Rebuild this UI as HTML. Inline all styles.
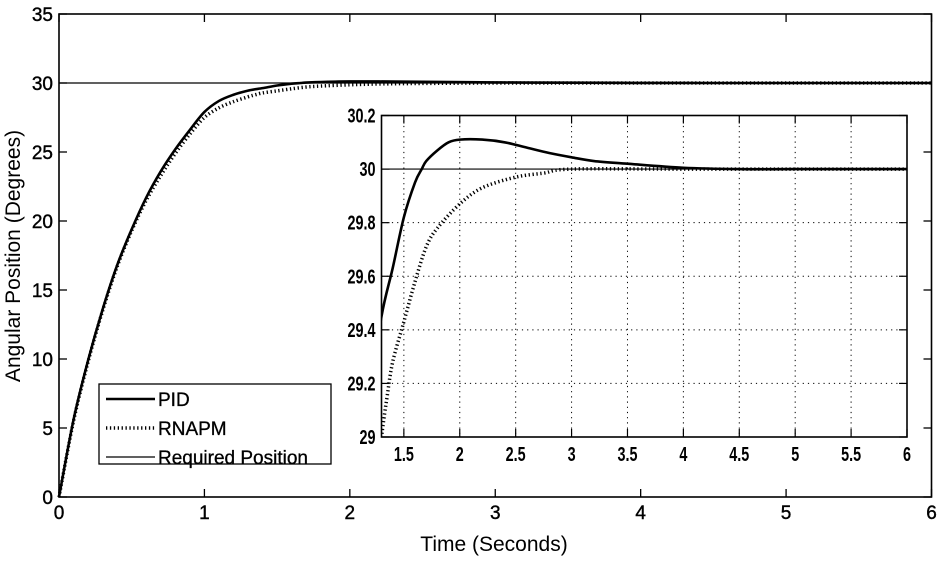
<!DOCTYPE html>
<html><head><meta charset="utf-8"><style>
html,body{margin:0;padding:0;background:#fff;}
svg{display:block;font-family:"Liberation Sans",Arial,sans-serif;}
</style></head><body>
<svg id="chart" width="938" height="561" viewBox="0 0 938 561" xmlns="http://www.w3.org/2000/svg"></svg>
<script>
// ---- data ----
const pidT   = [0,0.1,0.2,0.3,0.4,0.5,0.6,0.7,0.8,0.9,1.0,1.1,1.2,1.3,1.4,1.5,1.6,1.66,1.7,1.8,1.9,2.0,2.2,2.4,2.6,2.8,3.0,3.2,3.5,4.0,4.5,5.0,6.0];
const pidV   = [0,5.6,9.9,13.6,16.8,19.4,21.7,23.6,25.2,26.6,27.9,28.7,29.15,29.45,29.63,29.82,29.95,30.0,30.03,30.07,30.1,30.11,30.11,30.1,30.08,30.06,30.044,30.03,30.02,30.005,30.0,30.0,30.0];
const rnT    = [0,0.1,0.2,0.3,0.4,0.5,0.6,0.7,0.8,0.9,1.0,1.1,1.2,1.3,1.35,1.4,1.5,1.6,1.7,1.8,2.0,2.2,2.5,2.75,3.0,4.0,6.0];
const rnV    = [0,5.5,9.8,13.5,16.7,19.3,21.5,23.3,24.9,26.3,27.5,28.2,28.65,29.0,29.15,29.28,29.43,29.58,29.71,29.78,29.87,29.93,29.97,29.985,30.0,30.0,30.0];
const required = 30;
const mainXTicks = [0,1,2,3,4,5,6];
const mainYTicks = [0,5,10,15,20,25,30,35];
const insetXTicks = [1.5,2,2.5,3,3.5,4,4.5,5,5.5,6];
const insetYTicks = [29,29.2,29.4,29.6,29.8,30,30.2];
const insetXLabels = ["1.5","2","2.5","3","3.5","4","4.5","5","5.5","6"];
const insetYLabels = ["29","29.2","29.4","29.6","29.8","30","30.2"];

const NS="http://www.w3.org/2000/svg";
const svg=document.getElementById('chart');
function mk(tag,attrs,parent){const e=document.createElementNS(NS,tag);for(const k in attrs)e.setAttribute(k,attrs[k]);(parent||svg).appendChild(e);return e;}

const M={l:59,r:931.5,t:14,b:497,x0:0,x1:6,y0:0,y1:35};
const mx=v=>M.l+(v-M.x0)/(M.x1-M.x0)*(M.r-M.l);
const my=v=>M.b-(v-M.y0)/(M.y1-M.y0)*(M.b-M.t);
const I={l:381.5,r:907,t:115.5,b:437,x0:1.3,x1:6,y0:29,y1:30.2};
const ix=v=>I.l+(v-I.x0)/(I.x1-I.x0)*(I.r-I.l);
const iy=v=>I.b-(v-I.y0)/(I.y1-I.y0)*(I.b-I.t);

function pathD(ts,vs,fx,fy,xmin,xmax){
 const p=[];for(let i=0;i<ts.length;i++){if(ts[i]<xmin-1e-9||ts[i]>xmax+1e-9)continue;p.push([fx(ts[i]),fy(vs[i])]);}
 let d='M'+p[0][0].toFixed(2)+','+p[0][1].toFixed(2);
 for(let i=0;i<p.length-1;i++){
  const p0=p[Math.max(0,i-1)],p1=p[i],p2=p[i+1],p3=p[Math.min(p.length-1,i+2)];
  const t=0.16;
  const c1=[p1[0]+(p2[0]-p0[0])*t,p1[1]+(p2[1]-p0[1])*t];
  const c2=[p2[0]-(p3[0]-p1[0])*t,p2[1]-(p3[1]-p1[1])*t];
  d+='C'+c1[0].toFixed(2)+','+c1[1].toFixed(2)+' '+c2[0].toFixed(2)+','+c2[1].toFixed(2)+' '+p2[0].toFixed(2)+','+p2[1].toFixed(2);
 }
 return d;}

let g=mk('g',{});


let e=mk('line',{x1:M.l,x2:M.r,y1:my(required),y2:my(required),stroke:'#000','stroke-width':1.2},g);


e=mk('path',{d:pathD(rnT,rnV,mx,my,0,6),fill:'none',stroke:'#000','stroke-width':3.5,'stroke-dasharray':'1.3 2.6'},g);


e=mk('path',{d:pathD(pidT,pidV,mx,my,0,6),fill:'none',stroke:'#000','stroke-width':2.6,'stroke-linejoin':'round'},g);



e=mk('rect',{x:M.l,y:M.t,width:M.r-M.l,height:M.b-M.t,fill:'none',stroke:'#000','stroke-width':1.6});


mainXTicks.forEach(v=>{const x=mx(v);
 mk('line',{x1:x,x2:x,y1:M.b,y2:M.b-8,stroke:'#000','stroke-width':1.3});
 mk('line',{x1:x,x2:x,y1:M.t,y2:M.t+8,stroke:'#000','stroke-width':1.3});
 const t=mk('text',{x:x,y:M.b+22,'font-size':19,'text-anchor':'middle','stroke':'#000','stroke-width':0.4});t.textContent=v;
 
 
});
mainYTicks.forEach(v=>{const y=my(v);
 mk('line',{x1:M.l,x2:M.l+8,y1:y,y2:y,stroke:'#000','stroke-width':1.3});
 mk('line',{x1:M.r,x2:M.r-8,y1:y,y2:y,stroke:'#000','stroke-width':1.3});
 const t=mk('text',{x:M.l-6,y:y+7,'font-size':19,'text-anchor':'end','stroke':'#000','stroke-width':0.4});t.textContent=v;
 
 
});
e=mk('text',{x:494,y:551,'font-size':21,'text-anchor':'middle'});e.textContent='Time (Seconds)';


e=mk('text',{x:0,y:0,'font-size':21,'text-anchor':'middle',transform:'translate(20,256) rotate(-90)'});e.textContent='Angular Position (Degrees)';



const lg=mk('g',{});


mk('rect',{x:99,y:384,width:232,height:80,fill:'#fff',stroke:'#000','stroke-width':1.3},lg);
const items=[['PID',{'stroke-width':2.6}],['RNAPM',{'stroke-width':3.5,'stroke-dasharray':'1.3 2.6'}],['Required Position',{'stroke-width':1.2}]];
items.forEach((it,i)=>{const y=399+i*29;
 const ln=mk('line',Object.assign({x1:106,x2:155,y1:y,y2:y,stroke:'#000'},it[1]),lg);
 
 
 const t=mk('text',{x:158,y:y+7,'font-size':19,'stroke':'#000','stroke-width':0.3},lg);t.textContent=it[0];
 
 
});

const ig=mk('g',{});


mk('rect',{x:I.l,y:I.t,width:I.r-I.l,height:I.b-I.t,fill:'#fff'},ig);
insetXTicks.forEach((v,i)=>{const x=ix(v);
 if(v<6){const gl=mk('line',{x1:x,x2:x,y1:I.t,y2:I.b,stroke:'#000','stroke-width':1,'stroke-dasharray':'1.2 4'},ig);
 
 }
 mk('line',{x1:x,x2:x,y1:I.b,y2:I.b-8,stroke:'#000','stroke-width':1.2},ig);
 mk('line',{x1:x,x2:x,y1:I.t,y2:I.t+8,stroke:'#000','stroke-width':1.2},ig);
 const t=mk('text',{x:0,y:0,'font-size':20,'font-weight':'bold','text-anchor':'middle',transform:`translate(${x},${I.b+24}) scale(0.72,1)`},ig);t.textContent=insetXLabels[i];
 
 
});
insetYTicks.forEach((v,i)=>{const y=iy(v);
 if(v>29&&v<30.2&&v!==30){const gl=mk('line',{x1:I.l,x2:I.r,y1:y,y2:y,stroke:'#000','stroke-width':1,'stroke-dasharray':'1.2 4'},ig);
 
 }
 mk('line',{x1:I.l,x2:I.l+8,y1:y,y2:y,stroke:'#000','stroke-width':1.2},ig);
 mk('line',{x1:I.r,x2:I.r-8,y1:y,y2:y,stroke:'#000','stroke-width':1.2},ig);
 const t=mk('text',{x:0,y:0,'font-size':20,'font-weight':'bold','text-anchor':'end',transform:`translate(${I.l-6},${y+7}) scale(0.72,1)`},ig);t.textContent=insetYLabels[i];
 
 
});
const cp=mk('clipPath',{id:'ic'},ig);mk('rect',{x:I.l,y:I.t,width:I.r-I.l,height:I.b-I.t},cp);
const ic=mk('g',{'clip-path':'url(#ic)'},ig);
e=mk('line',{x1:I.l,x2:I.r,y1:iy(required),y2:iy(required),stroke:'#000','stroke-width':1.2},ic);


e=mk('path',{d:pathD(rnT,rnV,ix,iy,1.2,6),fill:'none',stroke:'#000','stroke-width':3.5,'stroke-dasharray':'1.3 2.6'},ic);


e=mk('path',{d:pathD(pidT,pidV,ix,iy,1.2,6),fill:'none',stroke:'#000','stroke-width':2.6,'stroke-linejoin':'round'},ic);


e=mk('rect',{x:I.l,y:I.t,width:I.r-I.l,height:I.b-I.t,fill:'none',stroke:'#000','stroke-width':1.6},ig);


</script>
</body></html>
